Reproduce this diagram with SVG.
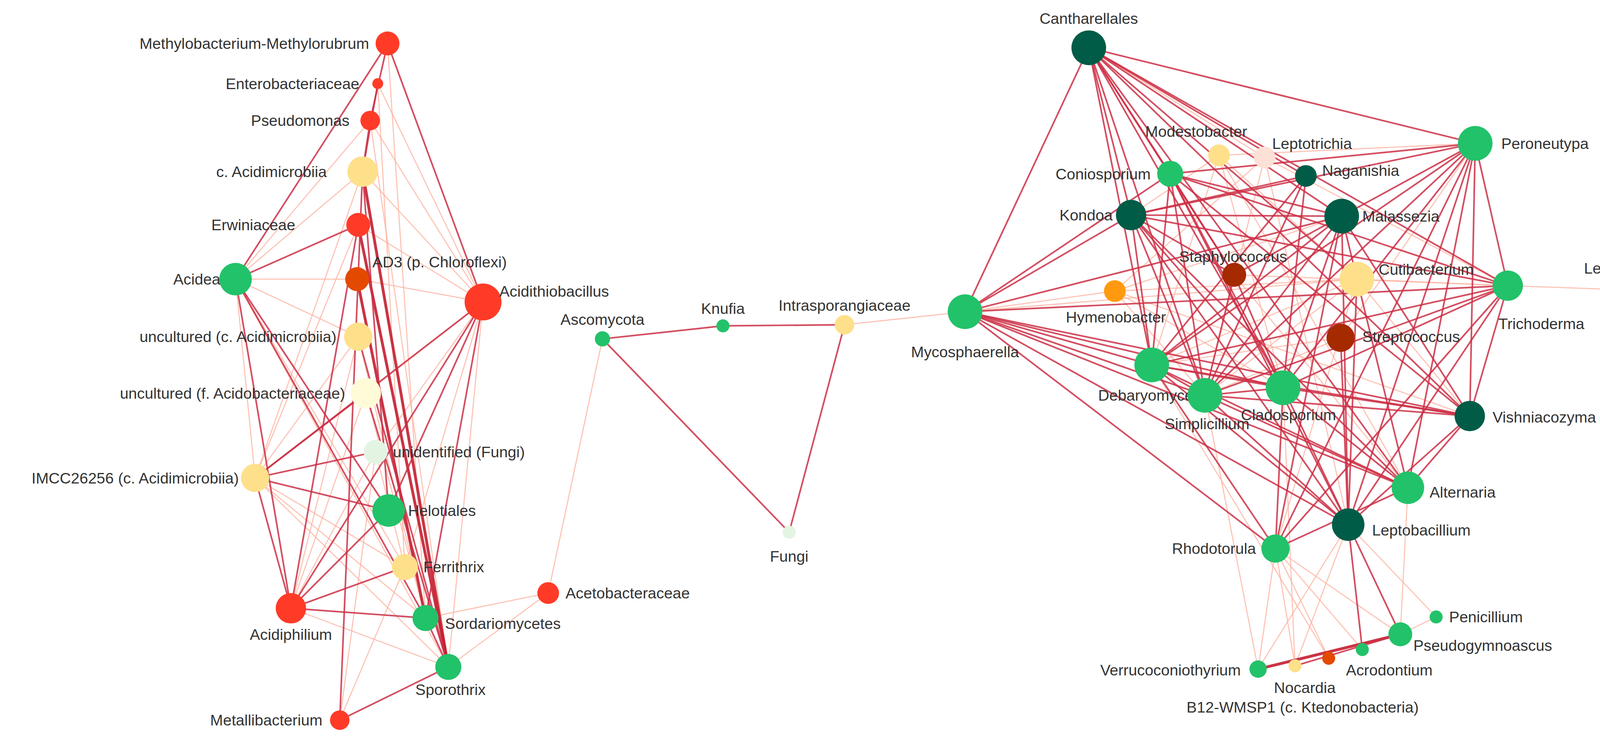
<svg xmlns="http://www.w3.org/2000/svg" width="4349" height="1906" viewBox="0 0 4349 1906">
<style>
.d{stroke:#cc2f45;stroke-opacity:.85;stroke-width:1.5;fill:none}
.l{stroke:#fcb3a0;stroke-opacity:.8;stroke-width:1;fill:none}
.t{stroke:#c41e30;stroke-opacity:.9;stroke-width:2.6;fill:none}
text{font-family:"Liberation Sans",Arial,sans-serif;font-size:14.2px;fill:#333}
.e{text-anchor:end}.m{text-anchor:middle}
.R{fill:#ff3b28}.Y{fill:#fee08b}.G{fill:#22c26a}.DG{fill:#005c47}.O{fill:#e34a00}.DR{fill:#a52a00}
</style>
<rect width="4349" height="1906" fill="#fff"/>
<g transform="scale(2.7789)">
<g id="connectors">
<line class="l" x1="217" y1="257" x2="334" y2="158"/><line class="l" x1="217" y1="257" x2="329" y2="257"/><line class="l" x1="217" y1="257" x2="373" y2="522"/><line class="l" x1="217" y1="257" x2="330" y2="310"/><line class="l" x1="217" y1="257" x2="235" y2="440"/><line class="l" x1="217" y1="257" x2="413" y2="614"/>
<line class="l" x1="445" y1="278" x2="334" y2="158"/><line class="l" x1="445" y1="278" x2="341" y2="111"/><line class="l" x1="445" y1="278" x2="348" y2="77"/><line class="l" x1="445" y1="278" x2="329" y2="257"/><line class="l" x1="445" y1="278" x2="337" y2="362"/><line class="l" x1="445" y1="278" x2="373" y2="522"/><line class="l" x1="445" y1="278" x2="413" y2="614"/><line class="l" x1="445" y1="278" x2="346" y2="416"/>
<line class="l" x1="235" y1="440" x2="334" y2="158"/><line class="l" x1="235" y1="440" x2="330" y2="207"/><line class="l" x1="235" y1="440" x2="373" y2="522"/><line class="l" x1="235" y1="440" x2="392" y2="569"/><line class="l" x1="235" y1="440" x2="413" y2="614"/><line class="l" x1="235" y1="440" x2="330" y2="310"/>
<line class="l" x1="268" y1="560" x2="330" y2="310"/><line class="l" x1="268" y1="560" x2="337" y2="362"/><line class="l" x1="268" y1="560" x2="346" y2="416"/><line class="l" x1="268" y1="560" x2="413" y2="614"/>
<line class="l" x1="313" y1="663" x2="373" y2="522"/><line class="l" x1="313" y1="663" x2="346" y2="416"/>
<line class="l" x1="341" y1="111" x2="217" y2="257"/><line class="l" x1="348" y1="77" x2="373" y2="522"/><line class="l" x1="357" y1="40" x2="392" y2="569"/><line class="l" x1="330" y1="207" x2="445" y2="278"/><line class="l" x1="341" y1="111" x2="413" y2="614"/>
<line class="l" x1="505" y1="546" x2="555" y2="312"/><line class="l" x1="505" y1="546" x2="392" y2="569"/><line class="l" x1="505" y1="546" x2="413" y2="614"/>
<line class="l" x1="346" y1="416" x2="373" y2="522"/><line class="l" x1="337" y1="362" x2="392" y2="569"/><line class="l" x1="330" y1="310" x2="392" y2="569"/>
<line class="d" x1="357" y1="40" x2="217" y2="257"/><line class="d" x1="357" y1="40" x2="445" y2="278"/><line class="d" x1="357" y1="40" x2="341" y2="111"/><line class="d" x1="348" y1="77" x2="334" y2="158"/><line class="d" x1="341" y1="111" x2="334" y2="158"/>
<line class="d" x1="330" y1="207" x2="217" y2="257"/><line class="d" x1="217" y1="257" x2="358" y2="470"/><line class="d" x1="217" y1="257" x2="268" y2="560"/><line class="d" x1="217" y1="257" x2="392" y2="569"/>
<line class="t" x1="334" y1="158" x2="413" y2="614"/><line class="t" x1="330" y1="207" x2="413" y2="614"/><line class="t" x1="329" y1="257" x2="392" y2="569"/><line class="d" x1="334" y1="158" x2="358" y2="470"/><line class="d" x1="334" y1="158" x2="313" y2="663"/><line class="d" x1="330" y1="310" x2="413" y2="614"/><line class="d" x1="337" y1="362" x2="413" y2="614"/>
<line class="d" x1="445" y1="278" x2="268" y2="560"/><line class="d" x1="445" y1="278" x2="392" y2="569"/><line class="d" x1="445" y1="278" x2="235" y2="440"/><line class="d" x1="445" y1="278" x2="358" y2="470"/>
<line class="d" x1="235" y1="440" x2="358" y2="470"/><line class="d" x1="235" y1="440" x2="346" y2="416"/><line class="d" x1="235" y1="440" x2="268" y2="560"/><line class="d" x1="235" y1="440" x2="337" y2="362"/>
<line class="d" x1="268" y1="560" x2="358" y2="470"/><line class="d" x1="268" y1="560" x2="392" y2="569"/><line class="d" x1="268" y1="560" x2="373" y2="522"/><line class="d" x1="268" y1="560" x2="330" y2="207"/>
<line class="d" x1="392" y1="569" x2="413" y2="614"/><line class="d" x1="413" y1="614" x2="313" y2="663"/>
<line class="d" x1="555" y1="312" x2="666" y2="300"/><line class="d" x1="666" y1="300" x2="778" y2="299"/><line class="d" x1="555" y1="312" x2="727" y2="490"/><line class="d" x1="778" y1="299" x2="727" y2="490"/><line class="l" x1="778" y1="299" x2="889" y2="287"/>
<line class="l" x1="1123" y1="143" x2="1042" y2="198"/><line class="l" x1="1123" y1="143" x2="1250" y2="257"/><line class="l" x1="1123" y1="143" x2="1061" y2="336"/><line class="l" x1="1123" y1="143" x2="1182" y2="357"/><line class="l" x1="1123" y1="143" x2="1297" y2="449"/><line class="l" x1="1123" y1="143" x2="1359" y2="132"/>
<line class="l" x1="1165" y1="145" x2="1027" y2="268"/><line class="l" x1="1165" y1="145" x2="1110" y2="364"/><line class="l" x1="1165" y1="145" x2="1389" y2="263"/><line class="l" x1="1165" y1="145" x2="1242" y2="483"/><line class="l" x1="1165" y1="145" x2="1003" y2="44"/>
<line class="l" x1="1250" y1="257" x2="1027" y2="268"/><line class="l" x1="1250" y1="257" x2="1110" y2="364"/><line class="l" x1="1250" y1="257" x2="1061" y2="336"/><line class="l" x1="1250" y1="257" x2="1354" y2="383"/><line class="l" x1="1250" y1="257" x2="1175" y2="505"/><line class="l" x1="1250" y1="257" x2="1389" y2="263"/><line class="l" x1="1250" y1="257" x2="889" y2="287"/>
<line class="l" x1="1027" y1="268" x2="1110" y2="364"/><line class="l" x1="1027" y1="268" x2="1182" y2="357"/><line class="l" x1="1027" y1="268" x2="1236" y2="199"/><line class="l" x1="1027" y1="268" x2="1354" y2="383"/><line class="l" x1="1027" y1="268" x2="889" y2="287"/>
<line class="l" x1="1137" y1="253" x2="1389" y2="263"/><line class="l" x1="1137" y1="253" x2="1297" y2="449"/><line class="l" x1="1235" y1="311" x2="1110" y2="364"/><line class="l" x1="1235" y1="311" x2="1061" y2="336"/><line class="l" x1="1235" y1="311" x2="1359" y2="132"/>
<line class="l" x1="1389" y1="263" x2="1502" y2="267"/>
<line class="l" x1="1175" y1="505" x2="1290" y2="584"/><line class="l" x1="1175" y1="505" x2="1159" y2="616"/><line class="l" x1="1175" y1="505" x2="1193" y2="613"/><line class="l" x1="1175" y1="505" x2="1224" y2="606"/><line class="l" x1="1175" y1="505" x2="1255" y2="598"/><line class="l" x1="1242" y1="483" x2="1159" y2="616"/><line class="l" x1="1242" y1="483" x2="1193" y2="613"/><line class="l" x1="1242" y1="483" x2="1323" y2="568"/><line class="l" x1="1297" y1="449" x2="1290" y2="584"/><line class="l" x1="1182" y1="357" x2="1193" y2="613"/><line class="l" x1="1061" y1="336" x2="1224" y2="606"/><line class="l" x1="1110" y1="364" x2="1159" y2="616"/>
<line class="d" x1="1003" y1="44" x2="1359" y2="132"/><line class="d" x1="1003" y1="44" x2="889" y2="287"/><line class="d" x1="1003" y1="44" x2="1078" y2="160"/><line class="d" x1="1003" y1="44" x2="1042" y2="198"/><line class="d" x1="1003" y1="44" x2="1236" y2="199"/><line class="d" x1="1003" y1="44" x2="1203" y2="162"/><line class="d" x1="1003" y1="44" x2="1250" y2="257"/><line class="d" x1="1003" y1="44" x2="1389" y2="263"/><line class="d" x1="1003" y1="44" x2="1061" y2="336"/><line class="d" x1="1003" y1="44" x2="1110" y2="364"/><line class="d" x1="1003" y1="44" x2="1182" y2="357"/><line class="d" x1="1003" y1="44" x2="1297" y2="449"/><line class="d" x1="1003" y1="44" x2="1354" y2="383"/><line class="d" x1="1003" y1="44" x2="1137" y2="253"/>
<line class="d" x1="1359" y1="132" x2="1042" y2="198"/><line class="d" x1="1359" y1="132" x2="1078" y2="160"/><line class="d" x1="1359" y1="132" x2="1236" y2="199"/><line class="d" x1="1359" y1="132" x2="1110" y2="364"/><line class="d" x1="1359" y1="132" x2="1182" y2="357"/><line class="d" x1="1359" y1="132" x2="1061" y2="336"/><line class="d" x1="1359" y1="132" x2="1354" y2="383"/><line class="d" x1="1359" y1="132" x2="1297" y2="449"/><line class="d" x1="1359" y1="132" x2="1242" y2="483"/><line class="d" x1="1359" y1="132" x2="1175" y2="505"/><line class="d" x1="1359" y1="132" x2="1389" y2="263"/>
<line class="d" x1="889" y1="287" x2="1061" y2="336"/><line class="d" x1="889" y1="287" x2="1110" y2="364"/><line class="d" x1="889" y1="287" x2="1182" y2="357"/><line class="d" x1="889" y1="287" x2="1354" y2="383"/><line class="d" x1="889" y1="287" x2="1297" y2="449"/><line class="d" x1="889" y1="287" x2="1242" y2="483"/><line class="d" x1="889" y1="287" x2="1389" y2="263"/><line class="d" x1="889" y1="287" x2="1236" y2="199"/><line class="d" x1="889" y1="287" x2="1042" y2="198"/><line class="d" x1="889" y1="287" x2="1078" y2="160"/><line class="d" x1="889" y1="287" x2="1175" y2="505"/>
<line class="d" x1="1389" y1="263" x2="1061" y2="336"/><line class="d" x1="1389" y1="263" x2="1110" y2="364"/><line class="d" x1="1389" y1="263" x2="1182" y2="357"/><line class="d" x1="1389" y1="263" x2="1042" y2="198"/><line class="d" x1="1389" y1="263" x2="1078" y2="160"/><line class="d" x1="1389" y1="263" x2="1242" y2="483"/><line class="d" x1="1389" y1="263" x2="1175" y2="505"/><line class="d" x1="1389" y1="263" x2="1354" y2="383"/>
<line class="d" x1="1236" y1="199" x2="1061" y2="336"/><line class="d" x1="1236" y1="199" x2="1110" y2="364"/><line class="d" x1="1236" y1="199" x2="1182" y2="357"/><line class="d" x1="1236" y1="199" x2="1297" y2="449"/><line class="d" x1="1236" y1="199" x2="1354" y2="383"/><line class="d" x1="1236" y1="199" x2="1042" y2="198"/><line class="d" x1="1236" y1="199" x2="1242" y2="483"/><line class="d" x1="1236" y1="199" x2="1175" y2="505"/><line class="d" x1="1236" y1="199" x2="1078" y2="160"/>
<line class="d" x1="1042" y1="198" x2="1110" y2="364"/><line class="d" x1="1042" y1="198" x2="1182" y2="357"/><line class="d" x1="1042" y1="198" x2="1061" y2="336"/><line class="d" x1="1042" y1="198" x2="1297" y2="449"/><line class="d" x1="1042" y1="198" x2="1242" y2="483"/>
<line class="d" x1="1078" y1="160" x2="1110" y2="364"/><line class="d" x1="1078" y1="160" x2="1182" y2="357"/><line class="d" x1="1078" y1="160" x2="1061" y2="336"/><line class="d" x1="1078" y1="160" x2="1354" y2="383"/><line class="d" x1="1078" y1="160" x2="1242" y2="483"/>
<line class="d" x1="1110" y1="364" x2="1182" y2="357"/><line class="d" x1="1110" y1="364" x2="1354" y2="383"/><line class="d" x1="1110" y1="364" x2="1297" y2="449"/><line class="d" x1="1110" y1="364" x2="1242" y2="483"/><line class="d" x1="1110" y1="364" x2="1061" y2="336"/><line class="d" x1="1110" y1="364" x2="1203" y2="162"/><line class="d" x1="1110" y1="364" x2="1137" y2="253"/>
<line class="d" x1="1182" y1="357" x2="1354" y2="383"/><line class="d" x1="1182" y1="357" x2="1297" y2="449"/><line class="d" x1="1182" y1="357" x2="1242" y2="483"/><line class="d" x1="1182" y1="357" x2="1061" y2="336"/><line class="d" x1="1182" y1="357" x2="1175" y2="505"/>
<line class="d" x1="1354" y1="383" x2="1242" y2="483"/><line class="d" x1="1354" y1="383" x2="1297" y2="449"/><line class="d" x1="1354" y1="383" x2="1061" y2="336"/>
<line class="d" x1="1297" y1="449" x2="1061" y2="336"/><line class="d" x1="1297" y1="449" x2="1175" y2="505"/>
<line class="d" x1="1242" y1="483" x2="1290" y2="584"/><line class="d" x1="1242" y1="483" x2="1255" y2="598"/><line class="d" x1="1242" y1="483" x2="1250" y2="257"/><line class="d" x1="1242" y1="483" x2="1235" y2="311"/>
<line class="d" x1="1061" y1="336" x2="1175" y2="505"/><line class="d" x1="1061" y1="336" x2="1242" y2="483"/>
<line class="d" x1="1203" y1="162" x2="1042" y2="198"/><line class="d" x1="1203" y1="162" x2="1061" y2="336"/><line class="d" x1="1203" y1="162" x2="1182" y2="357"/>
<line class="d" x1="1137" y1="253" x2="1078" y2="160"/><line class="d" x1="1137" y1="253" x2="1042" y2="198"/><line class="d" x1="1137" y1="253" x2="1182" y2="357"/><line class="d" x1="1137" y1="253" x2="1236" y2="199"/>
<line class="t" x1="1290" y1="584" x2="1159" y2="616"/><line class="d" x1="1290" y1="584" x2="1193" y2="613"/><line class="l" x1="1290" y1="584" x2="1323" y2="568"/>
</g>
<g id="n-methylo"><circle cx="357" cy="40" r="11" class="R"/><text x="340" y="45" class="e">Methylobacterium-Methylorubrum</text></g>
<g id="n-entero"><circle cx="348" cy="77" r="5" class="R"/><text x="331" y="82" class="e">Enterobacteriaceae</text></g>
<g id="n-pseudomonas"><circle cx="341" cy="111" r="9" class="R"/><text x="322" y="116" class="e">Pseudomonas</text></g>
<g id="n-cacid"><circle cx="334" cy="158" r="14" class="Y"/><text x="301" y="163" class="e">c. Acidimicrobiia</text></g>
<g id="n-erwin"><circle cx="330" cy="207" r="11" class="R"/><text x="272" y="212" class="e">Erwiniaceae</text></g>
<g id="n-ad3"><circle cx="329" cy="257" r="11" class="O"/><text x="343" y="246">AD3 (p. Chloroflexi)</text></g>
<g id="n-acidea"><circle cx="217" cy="257" r="15" class="G"/><text x="203" y="262" class="e">Acidea</text></g>
<g id="n-acidithio"><circle cx="445" cy="278" r="17" class="R"/><text x="460" y="273">Acidithiobacillus</text></g>
<g id="n-uncc"><circle cx="330" cy="310" r="13" class="Y"/><text x="310" y="315" class="e">uncultured (c. Acidimicrobiia)</text></g>
<g id="n-uncf"><circle cx="337" cy="362" r="14" fill="#fffbd8"/><text x="318" y="367" class="e">uncultured  (f. Acidobacteriaceae)</text></g>
<g id="n-unid"><circle cx="346" cy="416" r="11" fill="#e3f4e3"/><text x="362" y="421">unidentified (Fungi)</text></g>
<g id="n-imcc"><circle cx="235" cy="440" r="13" class="Y"/><text x="220" y="445" class="e">IMCC26256 (c. Acidimicrobiia)</text></g>
<g id="n-helot"><circle cx="358" cy="470" r="15" class="G"/><text x="376" y="475">Helotiales</text></g>
<g id="n-ferri"><circle cx="373" cy="522" r="12" class="Y"/><text x="390" y="527">Ferrithrix</text></g>
<g id="n-acidiph"><circle cx="268" cy="560" r="14" class="R"/><text x="268" y="589" class="m">Acidiphilium</text></g>
<g id="n-sordario"><circle cx="392" cy="569" r="12" class="G"/><text x="410" y="579">Sordariomycetes</text></g>
<g id="n-acetob"><circle cx="505" cy="546" r="10" class="R"/><text x="521" y="551">Acetobacteraceae</text></g>
<g id="n-sporo"><circle cx="413" cy="614" r="12" class="G"/><text x="415" y="640" class="m">Sporothrix</text></g>
<g id="n-metalli"><circle cx="313" cy="663" r="9" class="R"/><text x="297" y="668" class="e">Metallibacterium</text></g>
<g id="n-ascomycota"><circle cx="555" cy="312" r="7" class="G"/><text x="555" y="299" class="m">Ascomycota</text></g>
<g id="n-knufia"><circle cx="666" cy="300" r="6" class="G"/><text x="666" y="289" class="m">Knufia</text></g>
<g id="n-intras"><circle cx="778" cy="299" r="9" class="Y"/><text x="778" y="286" class="m">Intrasporangiaceae</text></g>
<g id="n-fungi"><circle cx="727" cy="490" r="6" fill="#e3f4e3"/><text x="727" y="517" class="m">Fungi</text></g>
<g id="n-canth"><circle cx="1003" cy="44" r="16" class="DG"/><text x="1003" y="22" class="m">Cantharellales</text></g>
<g id="n-peron"><circle cx="1359" cy="132" r="16" class="G"/><text x="1383" y="137">Peroneutypa</text></g>
<g id="n-modesto"><circle cx="1123" cy="143" r="10" class="Y"/><text x="1102" y="126" class="m">Modestobacter</text></g>
<g id="n-leptotr"><circle cx="1165" cy="145" r="10" fill="#fde0d6"/><text x="1172" y="137">Leptotrichia</text></g>
<g id="n-conio"><circle cx="1078" cy="160" r="12" class="G"/><text x="1060" y="165" class="e">Coniosporium</text></g>
<g id="n-naga"><circle cx="1203" cy="162" r="10" class="DG"/><text x="1218" y="162">Naganishia</text></g>
<g id="n-kondoa"><circle cx="1042" cy="198" r="14" class="DG"/><text x="1025" y="203" class="e">Kondoa</text></g>
<g id="n-malass"><circle cx="1236" cy="199" r="16" class="DG"/><text x="1255" y="204">Malassezia</text></g>
<g id="n-staph"><circle cx="1137" cy="253" r="11" class="DR"/><text x="1136" y="241" class="m">Staphylococcus</text></g>
<g id="n-cuti"><circle cx="1250" cy="257" r="16" class="Y"/><text x="1270" y="253">Cutibacterium</text></g>
<g id="n-hymeno"><circle cx="1027" cy="268" r="10" fill="#ff9a10"/><text x="1028" y="297" class="m">Hymenobacter</text></g>
<g id="n-leptosp"><circle cx="1502" cy="267" r="7" fill="#ff8c6a"/><text x="1503" y="252" class="m">Leptospirillum</text></g>
<g id="n-tricho"><circle cx="1389" cy="263" r="14" class="G"/><text x="1420" y="303" class="m">Trichoderma</text></g>
<g id="n-mycos"><circle cx="889" cy="287" r="16" class="G"/><text x="889" y="329" class="m">Mycosphaerella</text></g>
<g id="n-strepto"><circle cx="1235" cy="311" r="13" class="DR"/><text x="1255" y="315">Streptococcus</text></g>
<g id="n-debary"><circle cx="1061" cy="336" r="16" class="G"/><text x="1059" y="369" class="m">Debaryomyces</text></g>
<g id="n-simpli"><circle cx="1110" cy="364" r="16" class="G"/><text x="1112" y="395" class="m">Simplicillium</text></g>
<g id="n-clado"><circle cx="1182" cy="357" r="16" class="G"/><text x="1187" y="387" class="m">Cladosporium</text></g>
<g id="n-vishnia"><circle cx="1354" cy="383" r="14" class="DG"/><text x="1375" y="389">Vishniacozyma</text></g>
<g id="n-altern"><circle cx="1297" cy="449" r="15" class="G"/><text x="1317" y="458">Alternaria</text></g>
<g id="n-leptob"><circle cx="1242" cy="483" r="15" class="DG"/><text x="1264" y="493">Leptobacillium</text></g>
<g id="n-rhodo"><circle cx="1175" cy="505" r="13" class="G"/><text x="1157" y="510" class="e">Rhodotorula</text></g>
<g id="n-penic"><circle cx="1323" cy="568" r="6" class="G"/><text x="1335" y="573">Penicillium</text></g>
<g id="n-pseudog"><circle cx="1290" cy="584" r="11" class="G"/><text x="1302" y="599">Pseudogymnoascus</text></g>
<g id="n-acrodon"><circle cx="1255" cy="598" r="6" class="G"/><text x="1240" y="622">Acrodontium</text></g>
<g id="n-b12"><circle cx="1224" cy="606" r="6" class="O"/><text x="1200" y="656" class="m">B12-WMSP1 (c. Ktedonobacteria)</text></g>
<g id="n-nocardia"><circle cx="1193" cy="613" r="6" class="Y"/><text x="1202" y="638" class="m">Nocardia</text></g>
<g id="n-verruco"><circle cx="1159" cy="616" r="8" class="G"/><text x="1143" y="622" class="e">Verrucoconiothyrium</text></g>
</g>
</svg>
